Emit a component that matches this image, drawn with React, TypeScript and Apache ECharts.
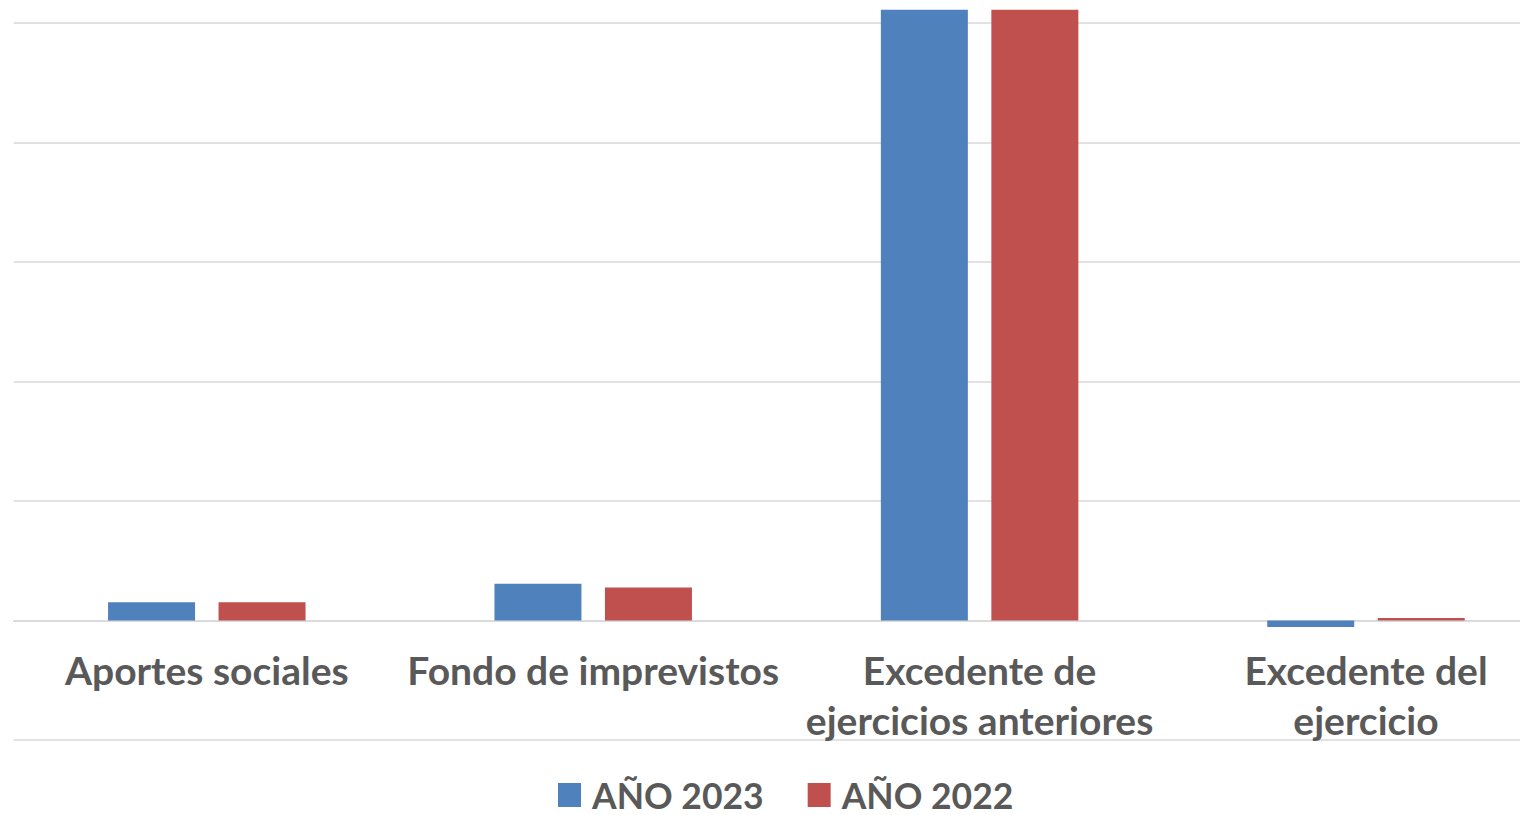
import React, { useEffect, useRef } from "react";
import * as echarts from "echarts";

// Categories and series values (thousands)
const categories = [
  "Aportes sociales",
  "Fondo de imprevistos",
  "Excedente de\nejercicios anteriores",
  "Excedente del\nejercicio",
];
const seriesNames = ["AÑO 2023", "AÑO 2022"];
const values2023 = [153, 307, 5110, -55];
const values2022 = [153, 276, 5110, 20];

const BLUE = "#4F81BD";
const RED = "#C0504D";
const TEXT = "#595959";
const GRID = "#D9D9D9";
const FONT = "Lato, 'Open Sans', sans-serif";

export default function App() {
  const ref = useRef<HTMLDivElement>(null);

  useEffect(() => {
    if (!ref.current) return;
    const chart = echarts.init(ref.current, undefined, { renderer: "svg" });
    chart.setOption({
      animation: false,
      backgroundColor: "#ffffff",
      grid: {
        left: 13.6,
        right: -39.2,
        top: 23,
        bottom: 75,
        containLabel: false,
        outerBoundsMode: "none",
      },
      legend: {
        left: 558,
        top: 777,
        padding: 0,
        icon: "rect",
        itemWidth: 23,
        itemHeight: 24,
        itemGap: 44,
        textStyle: {
          color: TEXT,
          fontFamily: FONT,
          fontWeight: "bold",
          fontSize: 35.5,
          lineHeight: 34,
          padding: [0, 0, 0, 6],
        },
        data: seriesNames,
      },
      xAxis: {
        type: "category",
        data: categories,
        position: "bottom",
        // category axis sits on the zero value line (one grid step above the bottom)
        offset: -119.5,
        axisTick: { show: false },
        axisLine: { show: true, onZero: false, lineStyle: { color: GRID, width: 1.5 } },
        axisLabel: {
          color: TEXT,
          fontFamily: FONT,
          fontWeight: "bold",
          fontSize: 39,
          lineHeight: 50,
          margin: 24,
          interval: 0,
        },
      },
      yAxis: {
        type: "value",
        min: -1000,
        max: 5000,
        interval: 1000,
        axisLabel: { show: false },
        axisLine: { show: false },
        axisTick: { show: false },
        splitLine: { show: true, lineStyle: { color: GRID, width: 1.5 } },
      },
      series: [
        {
          name: seriesNames[0],
          type: "bar",
          data: values2023,
          barWidth: 87,
          barGap: "27%",
          clip: false,
          itemStyle: { color: BLUE },
        },
        {
          name: seriesNames[1],
          type: "bar",
          data: values2022,
          barWidth: 87,
          barGap: "27%",
          clip: false,
          itemStyle: { color: RED },
        },
      ],
    });
    return () => chart.dispose();
  }, []);

  return (
    <div
      ref={ref}
      style={{ position: "fixed", left: 0, top: 0, width: 1520, height: 815 }}
    />
  );
}
